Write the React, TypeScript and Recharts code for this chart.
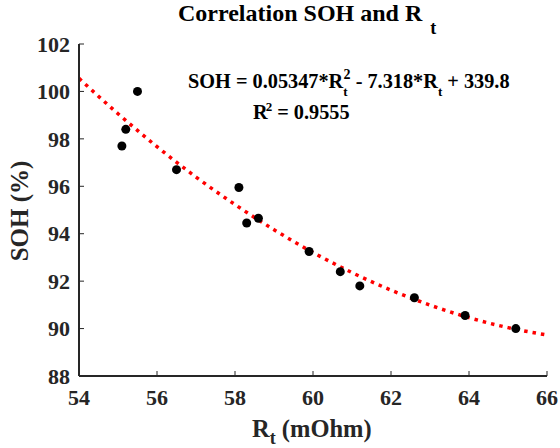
import { ComposedChart, Customized, Line, Scatter, XAxis, YAxis } from 'recharts';

// measured points
const rt = [55.1, 55.2, 55.5, 56.5, 58.1, 58.3, 58.6, 59.9, 60.7, 61.2, 62.6, 63.9, 65.2];
const soh = [97.7, 98.4, 100.0, 96.7, 95.95, 94.45, 94.65, 93.25, 92.4, 91.8, 91.3, 90.55, 90.0];

// fitted curve
const fitRt = [54, 55, 56, 57, 58, 59, 60, 61, 62, 63, 64, 65, 66];
const fitSoh = [100.55, 99.06, 97.67, 96.39, 95.23, 94.17, 93.21, 92.36, 91.62, 90.99, 90.46, 90.04, 89.73];

const xTicks = [54, 56, 58, 60, 62, 64, 66];
const yTicks = [88, 90, 92, 94, 96, 98, 100, 102];

const points = rt.map((x, i) => ({ x, y: soh[i] }));
const fit = fitRt.map((x, i) => ({ x, y: fitSoh[i] }));

const serif = { fontFamily: 'Liberation Serif, Times New Roman, serif', fontWeight: 700 };
const AXIS = '#262626';

const XTick = ({ x, y, payload }: any) => (
	<g>
		<line x1={x} x2={x} y1={y - 13} y2={y - 18} stroke={AXIS} strokeWidth={1} />
		<text x={x} y={y} dy='0.71em' textAnchor='middle' style={serif} fontSize={22} fill={AXIS}>
			{payload.value}
		</text>
	</g>
);

const YTick = ({ x, y, payload }: any) => (
	<g>
		<line x1={x + 9} x2={x + 14} y1={y} y2={y} stroke={AXIS} strokeWidth={1} />
		<text x={x} y={y} dy='0.35em' textAnchor='end' style={serif} fontSize={22} fill={AXIS}>
			{payload.value}
		</text>
	</g>
);

const Texts = () => (
	<g style={serif} fill='#000'>
		<text x={178} y={21} fontSize={24} style={serif}>
			Correlation SOH and R <tspan dx={2} dy={13} fontSize={18}>t</tspan>
		</text>
		<text x={188} y={88} fontSize={20.3} style={serif}>
			SOH = 0.05347*R
			<tspan dy={8} fontSize={13}>t</tspan>
			<tspan dx={-4} dy={-17} fontSize={14}>2</tspan>
			<tspan dy={9}> - 7.318*R</tspan>
			<tspan dy={8} fontSize={13}>t</tspan>
			<tspan dy={-8}> + 339.8</tspan>
		</text>
		<text x={253} y={119} fontSize={20.3} style={serif}>
			R<tspan dx={-2} dy={-8} fontSize={13}>2</tspan>
			<tspan dy={8}> = 0.9555</tspan>
		</text>
		<text x={252} y={437} fontSize={24.5} fill={AXIS} style={serif}>
			R<tspan dy={7} fontSize={18}>t</tspan>
			<tspan dy={-7}> (mOhm)</tspan>
		</text>
		<text x={28} y={211} fontSize={25} textAnchor='middle' fill={AXIS} style={serif} transform='rotate(-90 28 211)'>
			SOH (%)
		</text>
	</g>
);

const App = () => {
	return (
		<div style={{ position: 'absolute', left: 0, top: 0, background: '#fff' }}>
			<ComposedChart width={560} height={448} margin={{ top: 44, right: 13, left: 0, bottom: 0 }}>
				<XAxis
					type='number'
					dataKey='x'
					domain={[54, 66]}
					ticks={xTicks}
					height={72}
					tickSize={0}
					tickMargin={13}
					tickLine={false}
					axisLine={{ stroke: AXIS, strokeWidth: 2 }}
					tick={<XTick />}
					allowDataOverflow
				/>
				<YAxis
					type='number'
					dataKey='y'
					domain={[88, 102]}
					ticks={yTicks}
					width={79}
					tickSize={0}
					tickMargin={9}
					tickLine={false}
					axisLine={{ stroke: AXIS, strokeWidth: 2 }}
					tick={<YTick />}
					allowDataOverflow
				/>
				<Scatter
					data={points}
					dataKey='y'
					isAnimationActive={false}
					shape={(p: any) => <circle cx={p.cx} cy={p.cy} r={4.5} fill='#000' />}
				/>
				<Line
					data={fit}
					dataKey='y'
					type='monotone'
					stroke='#ff0000'
					strokeWidth={3.5}
					strokeDasharray='3.5 5'
					dot={false}
					activeDot={false}
					isAnimationActive={false}
				/>
				<Customized component={Texts} />
			</ComposedChart>
		</div>
	);
};

export default App;
